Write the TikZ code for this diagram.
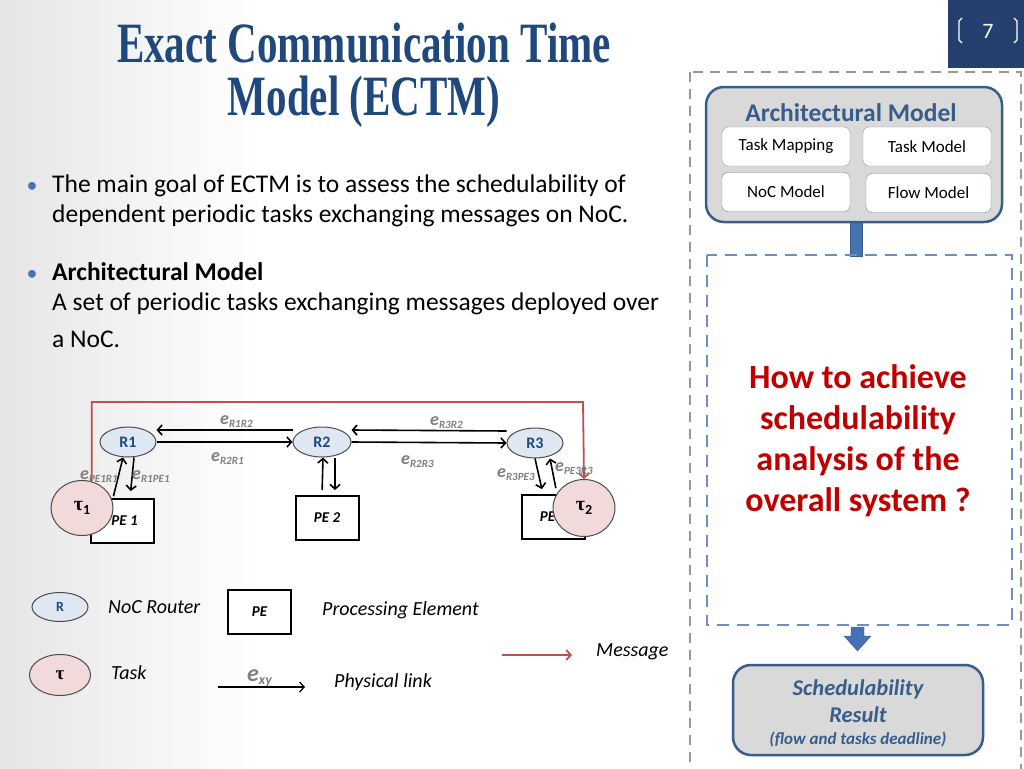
\documentclass[tikz,border=0pt]{standalone}
\usepackage{fontspec}
\setmainfont{Carlito}
\newfontfamily\titlefont[FakeStretch=0.72]{Liberation Serif}
\newfontfamily\greekfont{Liberation Serif}
\usetikzlibrary{shapes.geometric,arrows.meta}
\definecolor{titleblue}{RGB}{31,73,125}
\definecolor{boxblue}{RGB}{56,93,138}
\definecolor{barblue}{RGB}{70,114,180}
\definecolor{routerfill}{RGB}{222,231,242}
\definecolor{taskfill}{RGB}{242,218,218}
\definecolor{msgred}{RGB}{192,80,77}
\definecolor{askred}{RGB}{192,0,0}
\definecolor{pagebox}{RGB}{35,64,110}
\newcommand\fs[2]{\fontsize{#1}{#2}\selectfont}
\newcommand\lnk[1]{{\fs{18}{18}\textbf{\textit{e}}}{\fs{11}{11}\raisebox{-3pt}{\textbf{\textit{#1}}}}}
\newcommand\tsk[1]{{\greekfont\bfseries τ}\raisebox{-4pt}{\fs{14}{14}\textbf{#1}}}

\begin{document}
\begin{tikzpicture}
    [x=1pt, y=-1pt,
      router/.style={ellipse, draw=black!70, line width=1pt, fill=routerfill,
        minimum width=56pt, minimum height=30pt, inner sep=0pt,
        text=titleblue, font=\fs{16}{16}\bfseries},
      pebox/.style={rectangle, draw, line width=2pt, fill=white,
        minimum width=63pt, minimum height=44pt, font=\fs{15}{15}\bfseries\itshape},
      task/.style={ellipse, draw=black!70, line width=1pt, fill=taskfill,
        minimum width=62pt, minimum height=55pt, inner sep=0pt, font=\fs{20}{20}},
      link/.style={-{Straight Barb[length=4.5pt, width=10pt]}, line width=1.6pt},
      msg/.style={-{Straight Barb[length=4.5pt, width=10pt]}, draw=msgred, line width=1.8pt},
      lbl/.style={anchor=base west, inner sep=0pt, text=black!50},
      legend/.style={anchor=base west, inner sep=0pt, font=\fs{20}{20}\itshape},
      body/.style={anchor=base west, inner sep=0pt, font=\fs{25.5}{25.5}},
      inbox/.style={rectangle, rounded corners=6pt, draw=black!40, fill=white,
        minimum width=128pt, minimum height=39pt, font=\fs{17}{17}},
      bigbox/.style={rectangle, rounded corners=18pt, draw=boxblue, line width=2.5pt,
        fill=black!15}]
    \useasboundingbox (0,0) rectangle (1024,768);
    % background
    \fill[white] (0,0) rectangle (1024,768);
    \shade[left color=black!10, right color=white] (0,0) rectangle (260,768);
    \fill[pagebox] (948,0) rectangle (1024,68);
    \draw[white, line width=1.3pt] (962,18) -- (959,21) -- (959,40) -- (962,43);
    \draw[white, line width=1.3pt] (1014,18) -- (1017,21) -- (1017,40) -- (1014,43);
    \node (pagenum) at (988,31) {\color{white}\fs{22}{22}7};

    % title and bullets
    \node[anchor=base, inner sep=0pt, text depth=0pt, text=titleblue, font=\titlefont\bfseries\fs{57}{57}] (title1) at (364,63) {Exact Communication Time};
    \node[anchor=base, inner sep=0pt, text height=36pt, text=titleblue, font=\titlefont\bfseries\fs{57}{57}] (title2) at (364,115) {Model (ECTM)};
    \node[anchor=base, text=barblue, font=\fs{22}{22}] (bul1) at (32,192) {\textbullet};
    \node[body] (goal1) at (52,192) {The main goal of ECTM is to assess the schedulability of};
    \node[body] (goal2) at (52,222) {dependent periodic tasks exchanging messages on NoC.};
    \node[anchor=base, text=barblue, font=\fs{22}{22}] (bul2) at (32,280) {\textbullet};
    \node[body, font=\fs{25.5}{25.5}\bfseries] (archhead) at (52,280) {Architectural Model};
    \node[body] (archtxt1) at (52,310) {A set of periodic tasks exchanging messages deployed over};
    \node[body] (archtxt2) at (52,347) {a NoC.};

    % NoC example
    \coordinate (m2) at (583,402);
    \node[pebox] (pe1) at (122,521) {\hspace{5pt}PE 1};
    \node[pebox] (pe2) at (327,518) {PE 2};
    \node[pebox] (pe3) at (553,517) {PE 3};
    \node[router, minimum height=30pt] (r1) at (128,442) {R1};
    \node[router, minimum width=58pt] (r2) at (322,442) {R2};
    \node[router] (r3) at (535,443) {R3};
    \draw[link] ([yshift=12pt]r2.west) -- ([yshift=12pt]r1.east);
    \draw[link] (r1.east) -- (r2.west);
    \draw[link] ([yshift=12pt]r3.west) -- ([yshift=12pt]r2.east);
    \draw[link] (r2.east) -- (r3.west);
    \draw[link, shorten <=2pt] ([xshift=-9pt]pe1.north) -- ([xshift=-5pt]r1.south);
    \draw[link, shorten >=7pt] ([xshift=6pt]r1.south) -- ([xshift=8pt]pe1.north);
    \draw[link, shorten <=5pt] ([xshift=-5pt]pe2.north) -- ([xshift=1pt]r2.south);
    \draw[link, shorten >=5pt] ([xshift=13pt]r2.south) -- ([xshift=8pt]pe2.north);
    \draw[link, shorten >=5pt] (r3.south) -- ([xshift=-10pt]pe3.north);
    \draw[link, shorten <=6pt] ([xshift=4pt]pe3.north) -- ([xshift=15pt]r3.south);
    \node[task] (t1) at (82,508) {\tsk{1}};
    \node[task, minimum height=57pt] (t2) at (584,508) {\tsk{2}};
    \draw[msg] (t1.70) |- (m2) -- (t2.north);
    \node[lbl] (e12) at (220,424) {\lnk{R1R2}};
    \node[lbl] (e21) at (211,461) {\lnk{R2R1}};
    \node[lbl] (e32) at (430,425) {\lnk{R3R2}};
    \node[lbl] (e23) at (401,464) {\lnk{R2R3}};
    \node[lbl] (ep1) at (80,479) {\lnk{PE1R1}};
    \node[lbl] (e1p) at (132,479) {\lnk{R1PE1}};
    \node[lbl] (e3p) at (497,477) {\lnk{R3PE3}};
    \node[lbl] (ep3) at (555,471) {\lnk{PE3R3}};

    % legend
    \node[router, minimum height=29pt, font=\fs{14}{14}\bfseries] (lr) at (60,607) {R};
    \node[legend] (lrtxt) at (108,613) {NoC Router};
    \node[pebox, font=\fs{15}{15}\bfseries\itshape] (lpe) at (259.5,612) {PE};
    \node[legend] (lpetxt) at (322,615) {Processing Element};
    \node[task, minimum width=61pt, minimum height=41pt, font=\fs{19}{19}] (lt) at (60,675) {\greekfont\bfseries τ};
    \node[legend] (lttxt) at (111,679) {Task};
    \coordinate (pl1) at (218,687);
    \coordinate (pl2) at (305,687);
    \draw[link, line width=1.3pt] (pl1) -- (pl2);
    \node[lbl] (exy) at (247,681) {{\fs{24}{24}\textbf{\textit{e}}}{\fs{14}{14}\raisebox{-3pt}{\textbf{\textit{xy}}}}};
    \node[legend] (pltxt) at (334,687) {Physical link};
    \coordinate (ms1) at (502,655);
    \coordinate (ms2) at (572,655);
    \draw[msg] (ms1) -- (ms2);
    \node[legend] (mstxt) at (596,656) {Message};

    % right panel
    \draw[black!40, line width=2.5pt, dash pattern=on 10pt off 7pt] (690,72) rectangle (1021,776);
    \fill[barblue, draw=boxblue] (850,222) rectangle (862,256);
    \node[bigbox, minimum width=296pt, minimum height=135pt] (arch) at (854,154.5) {};
    \node[anchor=base, text=boxblue, font=\fs{25.5}{25.5}\bfseries] (archtitle) at (851,121) {Architectural Model};
    \node[inbox] (tmap) at (786,146.5) {Task Mapping};
    \node[inbox] (tmod) at (927,146.5) {Task Model};
    \node[inbox, draw=boxblue!70] (noc) at (786,192) {NoC Model};
    \node[inbox, draw=boxblue!70, minimum width=125pt] (flow) at (928.5,193) {Flow Model};
    \draw[barblue!80, line width=2.5pt, dash pattern=on 12pt off 8pt] (707,255) rectangle (1012,625);
    \node[text=askred, font=\fs{34}{41}\bfseries, align=center] (ask) at (858,441)
      {How to achieve\\schedulability\\analysis of the\\overall system ?};
    \fill[barblue, draw=boxblue] (851,627) -- (864,627) -- (864,636) -- (871,636) -- (857.5,651)
      -- (844,636) -- (851,636) -- cycle;
    \node[bigbox, minimum width=250pt, minimum height=90pt] (res) at (858,710) {};
    \node[anchor=base, text=boxblue, font=\fs{22.5}{22.5}\bfseries\itshape] (res1) at (858,695) {Schedulability};
    \node[anchor=base, text=boxblue, font=\fs{22.5}{22.5}\bfseries\itshape] (res2) at (858,722) {Result};
    \node[anchor=base, text=boxblue, font=\fs{17}{17}\bfseries\itshape] (res3) at (858,744) {(flow and tasks deadline)};
\end{tikzpicture}
\end{document}
